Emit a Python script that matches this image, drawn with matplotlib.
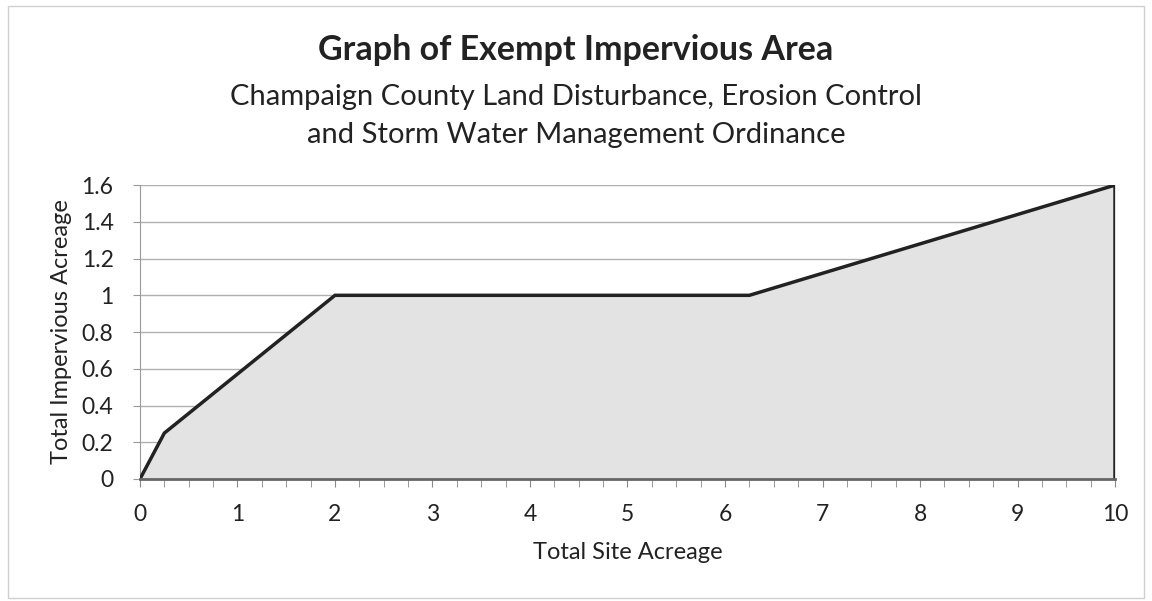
import matplotlib.pyplot as plt
from matplotlib.ticker import MultipleLocator
from matplotlib.patches import Rectangle

plt.rcParams['font.family'] = ['Lato', 'DejaVu Sans']

# breakpoints of the exempt impervious area curve
site_acres = [0, 0.25, 2, 6.25, 10]
impervious_acres = [0, 0.25, 1, 1, 1.6]

x_ticks = [0, 1, 2, 3, 4, 5, 6, 7, 8, 9, 10]
y_ticks = [0, 0.2, 0.4, 0.6, 0.8, 1, 1.2, 1.4, 1.6]
y_tick_labels = ['0', '0.2', '0.4', '0.6', '0.8', '1', '1.2', '1.4', '1.6']

fig = plt.figure(figsize=(11.52, 6.01), dpi=100)
ax = fig.add_axes([0.1215, 0.203, 0.8464, 0.489])

# light gray outer frame like the excel chart area
fig.patches.append(Rectangle((0.007, 0.005), 0.986, 0.985, transform=fig.transFigure,
                             fill=False, edgecolor='#d0d0d0', linewidth=1))

ax.fill_between(site_acres, impervious_acres, 0, color='#e3e3e3', zorder=2)
ax.plot(site_acres + [site_acres[-1]], impervious_acres + [0], color='#222222',
        linewidth=2.5, solid_joinstyle='miter', zorder=3)

ax.set_xlim(0, 10)
ax.set_ylim(0, 1.6)
ax.set_xticks(x_ticks)
ax.xaxis.set_minor_locator(MultipleLocator(0.25))
ax.set_yticks(y_ticks)
ax.set_yticklabels(y_tick_labels)
ax.grid(axis='y', color='#b0b0b0', linewidth=1, zorder=1)
ax.set_axisbelow(True)

for s in ['top', 'right']:
    ax.spines[s].set_visible(False)
ax.spines['left'].set_color('#999999')
ax.spines['bottom'].set_color('#666666')
ax.spines['bottom'].set_linewidth(2)
ax.spines['bottom'].set_zorder(4)

ax.tick_params(axis='x', which='both', direction='out', length=6, color='#888888',
               labelsize=16.5, pad=12, labelcolor='#222222')
ax.tick_params(axis='y', direction='out', length=5, color='#999999',
               labelsize=16.5, pad=14, labelcolor='#222222')

ax.set_xlabel('Total Site Acreage', fontsize=17, labelpad=12, color='#222222')
ax.set_ylabel('Total Impervious Acreage', fontsize=17, labelpad=7, color='#222222')

fig.text(0.5, 0.917, 'Graph of Exempt Impervious Area', ha='center', va='center',
         fontsize=24.5, fontweight='bold', color='#222222')
fig.text(0.5, 0.839, 'Champaign County Land Disturbance, Erosion Control', ha='center',
         va='center', fontsize=21, color='#222222')
fig.text(0.5, 0.775, 'and Storm Water Management Ordinance', ha='center',
         va='center', fontsize=21, color='#222222')

fig.savefig('out.png', dpi=100)
